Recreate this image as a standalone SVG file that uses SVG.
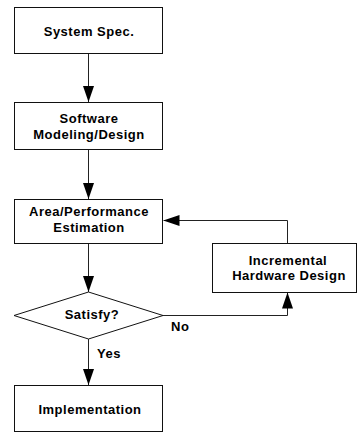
<svg xmlns="http://www.w3.org/2000/svg" width="357" height="434" viewBox="0 0 357 434">
  <defs>
    <style>
      .box { fill: #fff; stroke: #111; stroke-width: 1; }
      .lbl { font-family: "Liberation Sans", Arial, sans-serif; font-weight: bold; font-size: 13px; letter-spacing: 0.5px; fill: #000; text-anchor: middle; }
      .tag { font-family: "Liberation Sans", Arial, sans-serif; font-weight: bold; font-size: 13px; letter-spacing: 0.5px; fill: #000; }
      .wire { fill: none; stroke: #222; stroke-width: 1; }
    </style>
    <marker id="arrow" markerUnits="userSpaceOnUse" markerWidth="16" markerHeight="11" refX="16" refY="5.5" orient="auto">
      <path d="M0,0 L16,5.5 L0,11 z" fill="#000"/>
    </marker>
  </defs>
  <rect width="357" height="434" fill="#fff"/>

  <!-- connectors -->
  <g id="connectors">
    <line class="wire" x1="88.5" y1="53.5" x2="88.5" y2="102" marker-end="url(#arrow)"/>
    <line class="wire" x1="88.5" y1="149.5" x2="88.5" y2="199" marker-end="url(#arrow)"/>
    <line class="wire" x1="88.5" y1="243.5" x2="88.5" y2="292" marker-end="url(#arrow)"/>
    <line class="wire" x1="88.5" y1="339" x2="88.5" y2="385" marker-end="url(#arrow)"/>
    <polyline class="wire" points="287.5,243.5 287.5,220.5 163.5,220.5" marker-end="url(#arrow)"/>
    <polyline class="wire" points="163,315.5 287.5,315.5 287.5,292.5" marker-end="url(#arrow)"/>
    <text class="tag" x="171" y="331">No</text>
    <text class="tag" x="97" y="358">Yes</text>
  </g>

  <g id="system-spec">
    <rect class="box" x="14.5" y="7.5" width="148" height="46"/>
    <text class="lbl" x="89" y="36">System Spec.</text>
  </g>

  <g id="software-modeling">
    <rect class="box" x="14.5" y="102.5" width="148" height="47"/>
    <text class="lbl" x="89" y="123">Software</text>
    <text class="lbl" x="89" y="139">Modeling/Design</text>
  </g>

  <g id="area-estimation">
    <rect class="box" x="14.5" y="199.5" width="148" height="44"/>
    <text class="lbl" x="89" y="216">Area/Performance</text>
    <text class="lbl" x="89" y="232">Estimation</text>
  </g>

  <g id="incremental-hw">
    <rect class="box" x="212.5" y="243.5" width="144" height="49"/>
    <text class="lbl" x="288" y="265">Incremental</text>
    <text class="lbl" x="289" y="280">Hardware Design</text>
  </g>

  <g id="satisfy">
    <polygon class="box" points="14,315.5 88.5,292 163,315.5 88.5,339"/>
    <text class="lbl" x="92" y="319">Satisfy?</text>
  </g>

  <g id="implementation">
    <rect class="box" x="14.5" y="385.5" width="148" height="46"/>
    <text class="lbl" x="90" y="414">Implementation</text>
  </g>
</svg>
